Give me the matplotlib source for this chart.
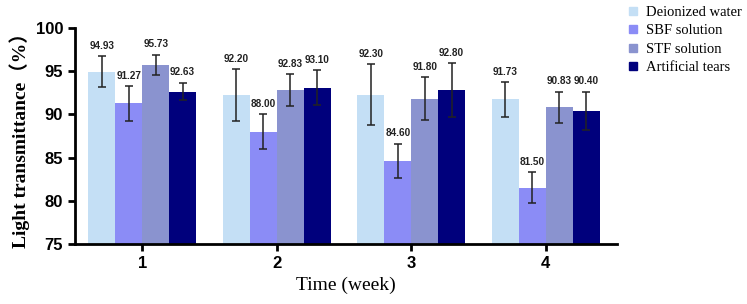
import numpy as np
import matplotlib.pyplot as plt
from matplotlib.lines import Line2D

weeks = ['1', '2', '3', '4']
series = ['Deionized water', 'SBF solution', 'STF solution', 'Artificial tears']
colors = ['#c4dff5', '#8b8cf6', '#8a93cf', '#00007c']

deionized = [94.93, 92.20, 92.30, 91.73]
sbf = [91.27, 88.00, 84.60, 81.50]
stf = [95.73, 92.83, 91.80, 90.83]
tears = [92.63, 93.10, 92.80, 90.40]

deionized_err = [1.8, 3.0, 3.5, 2.0]
sbf_err = [2.0, 2.0, 2.0, 1.8]
stf_err = [1.2, 1.8, 2.5, 1.8]
tears_err = [1.0, 2.0, 3.1, 2.2]

values = [deionized, sbf, stf, tears]
errors = [deionized_err, sbf_err, stf_err, tears_err]

fig = plt.figure(figsize=(7.47, 3.04), dpi=100)
ax = fig.add_axes([0.1004, 0.197, 0.7256, 0.711])

x = np.arange(1, len(weeks) + 1)
w = 0.2
for i, (vals, errs) in enumerate(zip(values, errors)):
    pos = x + (i - 1.5) * w
    ax.bar(pos, vals, width=w, color=colors[i], zorder=2)
    ax.errorbar(pos, vals, yerr=errs, fmt='none', ecolor='#222222',
                elinewidth=1.1, capsize=3, capthick=1.1, zorder=3)
    for p, v, e in zip(pos, vals, errs):
        ax.annotate(f'{v:.2f}', (p, v + e), xytext=(0, 4), textcoords='offset points',
                    ha='center', va='bottom', fontsize=7.2, fontweight='bold',
                    family='Liberation Sans', color='#222222')

ax.set_xlim(0.5, 4.53)
ax.set_ylim(75, 100)
ax.set_yticks([75, 80, 85, 90, 95, 100])
ax.set_xticks(x)
ax.set_xticklabels(weeks)
for s in ['top', 'right']:
    ax.spines[s].set_visible(False)
for s in ['left', 'bottom']:
    ax.spines[s].set_linewidth(2)
ax.tick_params(width=2, length=5, labelsize=12)
for lab in ax.get_xticklabels() + ax.get_yticklabels():
    lab.set_fontweight('bold')
    lab.set_family('Liberation Sans')

ax.set_ylabel('Light transmittance（%）', fontsize=14, fontweight='bold',
              family=['Liberation Serif', 'Noto Sans CJK SC'])
ax.set_xlabel('Time (week)', fontsize=14, family='Liberation Serif', labelpad=4)

handles = [Line2D([], [], marker='s', linestyle='none', markersize=5.5,
                  markerfacecolor=c, markeredgecolor=c) for c in colors]
fig.legend(handles, series, loc='upper left', bbox_to_anchor=(0.83, 1.0),
           frameon=False, prop={'family': 'Liberation Serif', 'size': 10.5},
           handletextpad=0.4, labelspacing=0.35, handlelength=1.0,
           borderaxespad=0.2, borderpad=0.2)

fig.savefig('out.png', dpi=100)
